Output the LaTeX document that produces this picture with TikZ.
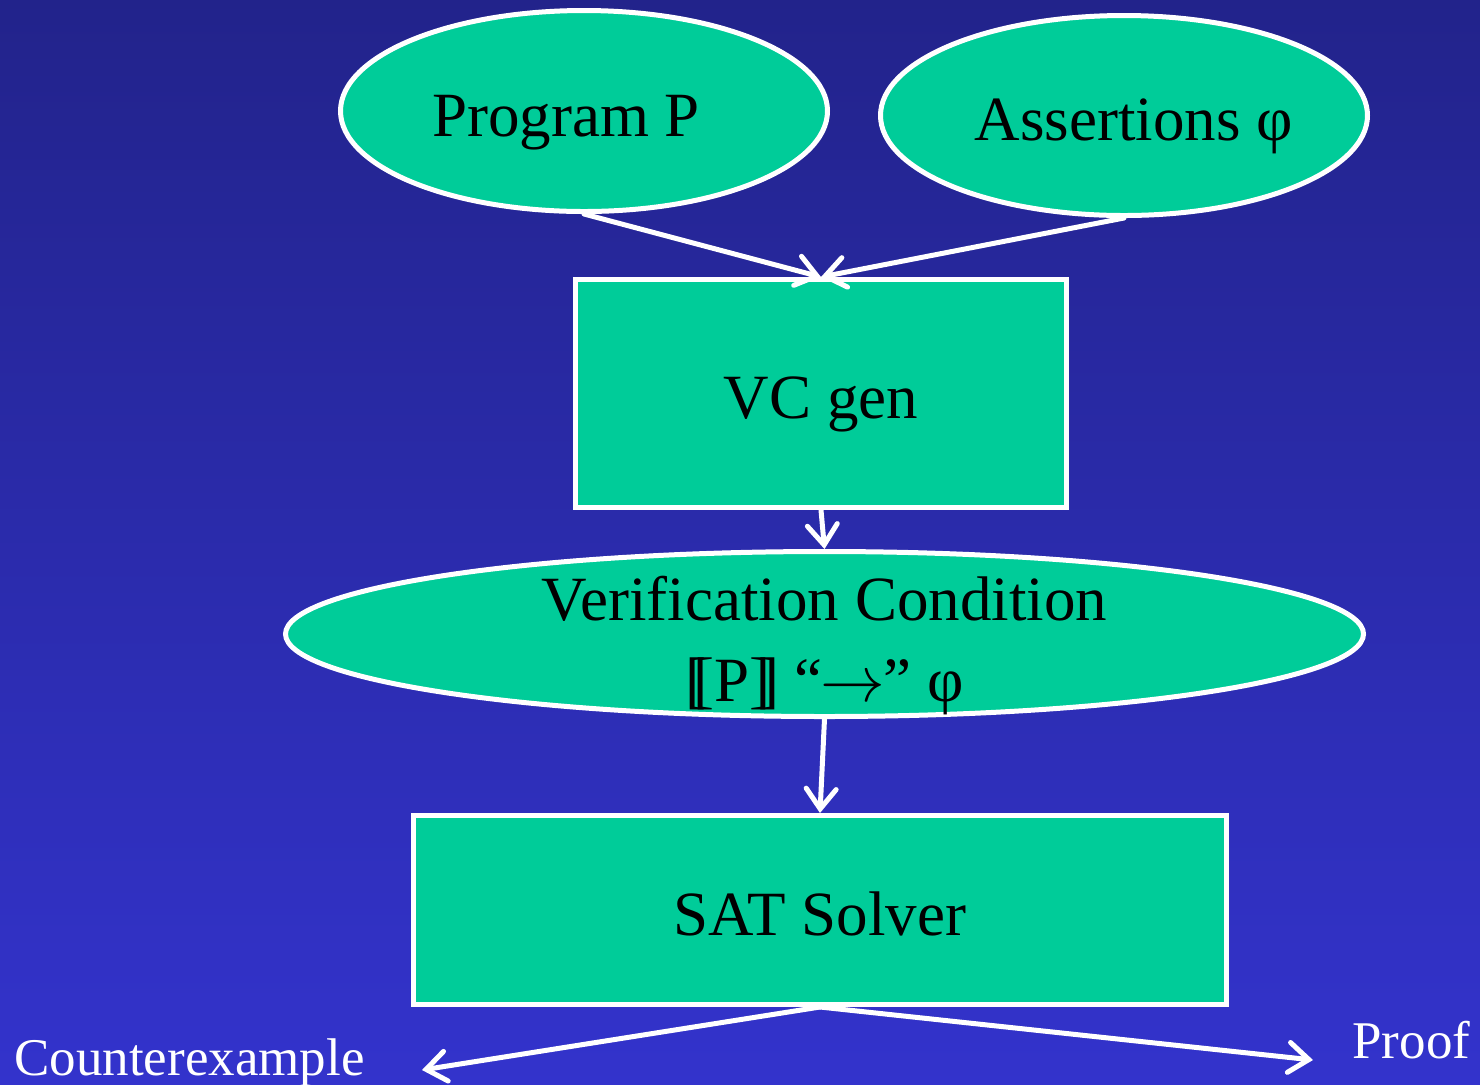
\documentclass[tikz,border=0pt]{standalone}
\usepackage{fontspec}
\usepackage{graphicx}
\setmainfont{Liberation Serif}
\usetikzlibrary{shapes.geometric,arrows.meta}
\definecolor{bgtop}{RGB}{34,35,139}
\definecolor{bgbot}{RGB}{51,51,204}
\definecolor{boxgreen}{RGB}{0,204,153}
\begin{document}
\begin{tikzpicture}[x=0.5pt,y=-0.5pt,
  shapebox/.style={fill=boxgreen,draw=white,line width=2.5pt,inner sep=0pt,
    font=\fontsize{31.5}{40.5}\selectfont,text=black},
  oneline/.style={text height=25.4pt,text depth=0pt},
  oval/.style={shapebox,ellipse},
  block/.style={shapebox,rectangle},
  flow/.style={draw=white,line width=2.5pt,line cap=round,
    -{Straight Barb[length=10pt,width=15pt,line cap=round]}},
  outlabel/.style={text=white,inner sep=0pt,font=\fontsize{26.5}{32}\selectfont}]
\shade[top color=bgtop,bottom color=bgbot] (0,0) rectangle (1480,1084);
\useasboundingbox (0,0) rectangle (1480,1084);
\node[oval,oneline,minimum width=243.5pt,minimum height=100.5pt] (prog) at (584,111) {\kern-18pt Program P};
\node[oval,oneline,minimum width=243.5pt,minimum height=100pt] (assert) at (1124,115.5) {Assertions φ\kern-10pt};
\node[block,oneline,minimum width=245.5pt,minimum height=114pt] (vc) at (821,393.5) {VC gen};
\node[oval,minimum width=539pt,minimum height=82.5pt] (ver) at (824.5,634)
  {\raisebox{-11.5pt}[0pt][0pt]{\begin{tabular}{@{}c@{}}Verification Condition\\ {[}\kern-.2em{[}P{]}\kern-.2em{]} “\kern-.03em\scalebox{1.3}{$\rightarrow$}\kern-.03em” φ\end{tabular}}};
\node[block,oneline,minimum width=406.5pt,minimum height=94.5pt] (sat) at (820,910) {SAT Solver};
\node[outlabel,anchor=base west] (cex) at (14,1075) {Counterexample};
\node[outlabel,anchor=base west] (proof) at (1352,1058) {Proof};
\coordinate (cexend) at (422,1070);
\coordinate (proofend) at (1313,1060);
\draw[flow] (prog.south) -- (vc.north);
\draw[flow] (assert.south) -- (vc.north);
\draw[flow] (vc.south) -- (ver.north);
\draw[flow] (ver.south) -- (sat.north);
\draw[flow] (sat.south) -- (cexend);
\draw[flow] (sat.south) -- (proofend);
\end{tikzpicture}
\end{document}
